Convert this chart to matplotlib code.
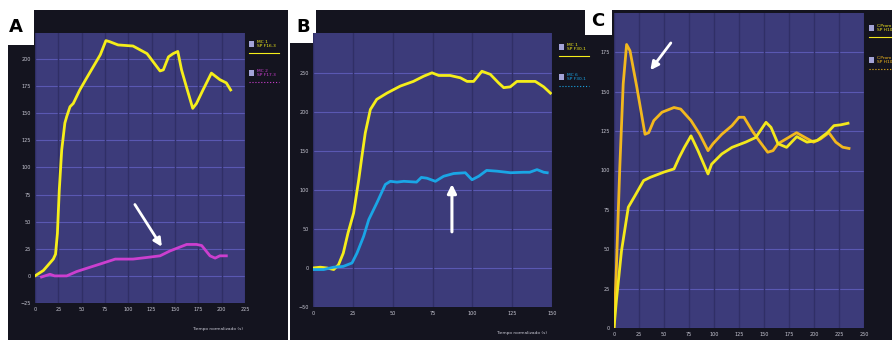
import matplotlib
matplotlib.use('Agg')
import matplotlib.pyplot as plt
from matplotlib.patches import Rectangle
from matplotlib.lines import Line2D

# ── data ──
a_yel_x = [0, 9, 19.6, 22, 24, 26, 28.6, 32, 34, 37.5, 41, 48, 55, 62.5, 70, 76, 80, 89, 105,
           120, 134, 137.5, 143, 148, 153, 157, 162, 169, 173, 180, 189, 198, 205, 209.6]
a_yel_y = [0, 5, 15.5, 20, 39, 79, 116, 141, 147, 156, 159, 171.5, 182, 193, 204, 217, 216, 213, 212,
           205, 189, 190, 202, 205, 207, 190, 175, 154.5, 159, 171.5, 187, 181, 178, 171.5]
a_mag_x = [7, 16, 21, 34, 44.6, 59, 70, 86, 105, 120, 134, 144.6, 162.5, 173, 178.6, 187.5, 193, 198, 205]
a_mag_y = [-1, 1.5, 0, 0, 4, 8, 11, 15.5, 15.5, 17, 18.5, 23, 29, 29, 28, 18.5, 16.4, 18.5, 18.5]

b_yel_x = [0, 4.6, 8.8, 13, 16, 19, 22, 25.5, 28.7, 30.7, 32.8, 36, 40, 46.4, 54.8, 63, 69.5, 74.7,
           78.9, 86, 92.5, 96.7, 100.8, 106, 111.3, 116.5, 119.7, 123.8, 128, 139.5, 144.8, 149]
b_yel_y = [0, 1, 0, -2, 4, 19, 45, 70.5, 113, 143, 173, 203, 216, 224, 233, 239, 245.7, 250,
           246.6, 246.6, 243.6, 239, 239, 252, 248, 237, 231, 232, 239, 239, 232, 224]
b_cyan_x = [0, 6.7, 13, 19, 24.5, 27.6, 31.8, 35, 40, 45.4, 48.5, 52.7, 57, 65, 68, 71.5, 76.8, 82,
            88.3, 95.6, 99.8, 104, 109, 115.5, 124, 132, 136, 140.6, 144.8, 147]
b_cyan_y = [-2, -2, 1, 2, 6.4, 19, 40.6, 62, 83, 107, 111, 110, 111, 110, 116, 115, 111, 117.5,
            121, 122, 113, 117.5, 125, 124, 122, 122.6, 122.6, 126, 122.6, 122]

c_org_x = [0, 2.4, 5.8, 9.2, 12.6, 16, 22.8, 31, 34.7, 39.8, 48, 60, 66.7, 77, 85.7, 94, 99, 107.8,
           118, 125, 130, 138.4, 145, 153.7, 159, 164, 172, 182.6, 191, 199.6, 206.4, 214.9, 221.8,
           228.6, 235]
c_org_y = [0, 38.7, 102, 155, 180, 176, 153, 123, 124, 131.7, 137, 140, 139, 131.7, 123, 112.6, 117,
           123, 128.5, 133.8, 133.8, 125, 119, 111.6, 112.6, 117, 120, 124, 121, 118, 120, 124, 118,
           114.8, 114]
c_yel_x = [0, 2.4, 7.5, 14.3, 21, 29.6, 36.4, 50, 60, 65, 70.4, 77, 84, 94, 97.6, 107.8, 118, 131.6,
           141.8, 152, 157, 164, 172.6, 182.8, 193, 203, 213.4, 220, 226.9, 234]
c_yel_y = [0, 17.5, 49, 76.7, 84, 93.6, 95.7, 99, 101, 108, 114.7, 122, 112.6, 97.8, 104, 110.5,
           114.7, 118, 121, 130.6, 127.4, 117, 114.7, 121.5, 118, 119, 124, 128.5, 129, 130]

a_xticks = list(range(0, 226, 25))
a_yticks = list(range(-25, 201, 25))
b_xticks = list(range(0, 151, 25))
b_yticks = list(range(-50, 251, 50))
c_xticks = list(range(0, 251, 25))
c_yticks = list(range(0, 176, 25))

xlabel = 'Tiempo normalizado (s)'

W, H = 892, 340
DARK = '#14141f'
PLOT = '#3c3b7a'
HGRID = '#5a58b2'
VGRID = '#302f66'
TXT = '#c8c8d4'

fig = plt.figure(figsize=(W / 100, H / 100), dpi=100, facecolor='white')


def rect(x0, y0, x1, y1, color):
    fig.add_artist(Rectangle((x0 / W, 1 - y1 / H), (x1 - x0) / W, (y1 - y0) / H,
                             transform=fig.transFigure, facecolor=color, edgecolor='none', zorder=0))


def add_ax(x0, y0, x1, y1):
    return fig.add_axes([x0 / W, 1 - y1 / H, (x1 - x0) / W, (y1 - y0) / H])


# ── dark panels + white label boxes ──
rect(8, 10, 288, 340, DARK)
rect(290, 10, 588, 340, DARK)
rect(588, 10, 892, 340, DARK)
rect(0, 0, 34, 45, 'white')
rect(290, 0, 316, 43, 'white')
rect(585, 0, 612, 35, 'white')
fig.text(16 / W, 1 - 27 / H, 'A', fontsize=13, fontweight='bold', ha='center', va='center')
fig.text(303 / W, 1 - 27 / H, 'B', fontsize=13, fontweight='bold', ha='center', va='center')
fig.text(598 / W, 1 - 21 / H, 'C', fontsize=13, fontweight='bold', ha='center', va='center')


def style(ax, xlim, ylim, xt, yt):
    ax.set_facecolor(PLOT)
    ax.set_xlim(*xlim)
    ax.set_ylim(*ylim)
    ax.set_xticks(xt)
    ax.set_yticks(yt)
    for s in ax.spines.values():
        s.set_visible(False)
    ax.tick_params(length=0, labelsize=3.5, colors=TXT, pad=3)
    for t in yt:
        ax.axhline(t, color=HGRID, lw=0.8, zorder=1)
    for t in xt:
        ax.axvline(t, color=VGRID, lw=1.0, zorder=1)


def legend_item(x, y, label, color, dotted=False):
    fig.add_artist(Rectangle(((x) / W, 1 - (y + 3) / H), 5 / W, 6 / H, transform=fig.transFigure,
                             facecolor='#a4a4d8', edgecolor='none', zorder=3))
    fig.text((x + 8) / W, 1 - y / H, label, fontsize=3.2, color=color, va='center',
             linespacing=1.1, zorder=3)
    fig.add_artist(Line2D([(x) / W, (x + 30) / W], [1 - (y + 9) / H] * 2, transform=fig.transFigure,
                          color=color, lw=0.8, ls=':' if dotted else '-', zorder=3))


# ── panel A ──
ax = add_ax(35, 33, 245, 303)
style(ax, (0, 225), (-25, 224), a_xticks, a_yticks)
ax.plot(a_yel_x, a_yel_y, color='#f5ee1a', lw=2, zorder=3)
ax.plot(a_mag_x, a_mag_y, color='#cc3fcf', lw=2, zorder=3)
ax.annotate('', xy=(137.5, 24.7), xytext=(105.4, 68),
            arrowprops=dict(arrowstyle='-|>', color='white', lw=2, mutation_scale=12), zorder=4)
fig.text(218 / W, 1 - 329 / H, xlabel, fontsize=3.2, color=TXT, ha='center', va='center')
legend_item(249, 44, 'MC 1\nSP F16.3', '#f5ee1a')
legend_item(249, 73, 'MC 2\nSP F17.3', '#cc3fcf', dotted=True)

# ── panel B ──
ax = add_ax(313, 33, 552, 307)
style(ax, (0, 150), (-50, 301), b_xticks, b_yticks)
ax.plot(b_yel_x, b_yel_y, color='#f5ee1a', lw=2, zorder=3)
ax.plot(b_cyan_x, b_cyan_y, color='#1aa6e6', lw=2, zorder=3)
ax.annotate('', xy=(87.2, 111), xytext=(87.2, 42.7),
            arrowprops=dict(arrowstyle='-|>', color='white', lw=2.2, mutation_scale=13), zorder=4)
fig.text(522 / W, 1 - 333 / H, xlabel, fontsize=3.2, color=TXT, ha='center', va='center')
legend_item(559, 47, 'MC 1\nSP F30.1', '#f5ee1a')
legend_item(559, 77, 'MC 6\nSP F30.1', '#1aa6e6', dotted=True)

# ── panel C ──
ax = add_ax(614, 13, 864, 328)
style(ax, (0, 250), (0, 200), c_xticks, c_yticks)
ax.plot(c_org_x, c_org_y, color='#f2b81e', lw=2, zorder=3)
ax.plot(c_yel_x, c_yel_y, color='#f3e81c', lw=2, zorder=3)
ax.annotate('', xy=(34.7, 162.3), xytext=(58.5, 182.4),
            arrowprops=dict(arrowstyle='-|>', color='white', lw=2, mutation_scale=12), zorder=4)
legend_item(869, 28, 'C.Prom\nSP H10', '#f3e81c')
legend_item(869, 60, 'C.Prom\nSP H10', '#f2b81e', dotted=True)

plt.savefig('out.png', dpi=100, facecolor='white')
